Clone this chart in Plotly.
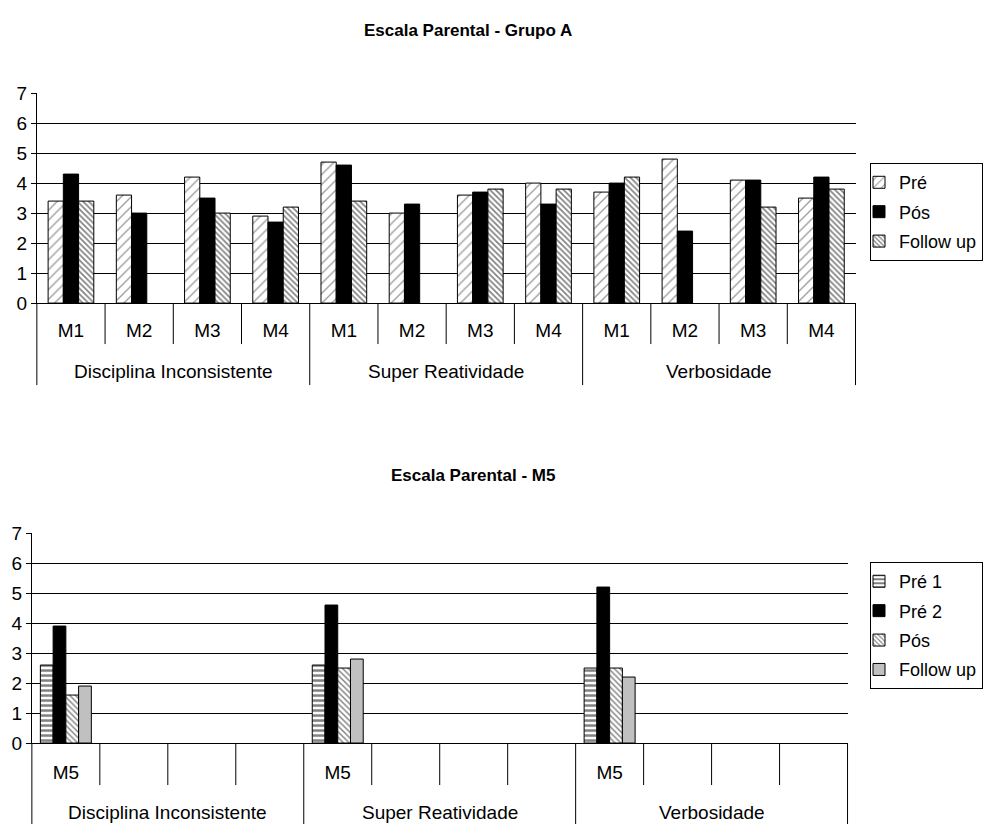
import plotly.graph_objects as go

# ---------------- data ----------------
groups = ["Disciplina Inconsistente", "Super Reatividade", "Verbosidade"]
measures_a = ["M1", "M2", "M3", "M4"]
pre_a = [3.4, 3.6, 4.2, 2.9, 4.7, 3.0, 3.6, 4.0, 3.7, 4.8, 4.1, 3.5]
pos_a = [4.3, 3.0, 3.5, 2.7, 4.6, 3.3, 3.7, 3.3, 4.0, 2.4, 4.1, 4.2]
follow_a = [3.4, None, 3.0, 3.2, 3.4, None, 3.8, 3.8, 4.2, None, 3.2, 3.8]

measures_b = ["M5", "", "", ""]
pre1_b = [2.6, None, None, None, 2.6, None, None, None, 2.5, None, None, None]
pre2_b = [3.9, None, None, None, 4.6, None, None, None, 5.2, None, None, None]
pos_b = [1.6, None, None, None, 2.5, None, None, None, 2.5, None, None, None]
follow_b = [1.9, None, None, None, 2.8, None, None, None, 2.2, None, None, None]

title_a = "Escala Parental - Grupo A"
title_b = "Escala Parental - M5"

# ---------------- layout helpers ----------------
W, H = 983, 824
FONT = "Liberation Sans, Arial, sans-serif"
YS, YO = 0.9746, 9.9   # vertical correction observed in the rendered photo

def px_x(p):
    return p / W

def px_y(p):
    q = (p - YO) / YS
    return 1 - q / H

keys_a = [f"{g}|{m}" for g in groups for m in measures_a]
keys_b = [f"{g}|{i}" for g in groups for i in range(len(measures_b))]
labels_a = [m for g in groups for m in measures_a]
labels_b = [m for g in groups for m in measures_b]

fig = go.Figure()

line = dict(color="black", width=1)

fig.add_trace(go.Bar(
    x=keys_a, y=pre_a, name="Pré", xaxis="x", yaxis="y", legend="legend",
    legendgroup="a1",
    marker=dict(color="white", line=line,
                pattern=dict(shape="/", fgcolor="#404040", bgcolor="white", size=7, solidity=0.2)),
))
fig.add_trace(go.Bar(
    x=keys_a, y=pos_a, name="Pós", xaxis="x", yaxis="y", legend="legend",
    legendgroup="a2",
    marker=dict(color="black", line=line),
))
fig.add_trace(go.Bar(
    x=keys_a, y=follow_a, name="Follow up", xaxis="x", yaxis="y", legend="legend",
    legendgroup="a3",
    marker=dict(color="white", line=line,
                pattern=dict(shape="\\", fgcolor="black", bgcolor="white", size=4, solidity=0.4)),
))

series_b = [
    ("Pré 1", pre1_b, dict(color="white", line=line,
                           pattern=dict(shape="-", fgcolor="black", bgcolor="white", size=5, solidity=0.5))),
    ("Pré 2", pre2_b, dict(color="black", line=line)),
    ("Pós", pos_b, dict(color="white", line=line,
                        pattern=dict(shape="\\", fgcolor="black", bgcolor="white", size=4, solidity=0.35))),
    ("Follow up", follow_b, dict(color="#C0C0C0", line=line)),
]
bw = 0.1875
for k, (nm, vals, mk) in enumerate(series_b):
    fig.add_trace(go.Bar(
        x=keys_b, y=vals, name=nm, xaxis="x2", yaxis="y2", legend="legend2",
        legendgroup=f"b{k}", marker=mk, width=bw, offset=-0.375 + k * bw,
    ))

axis_font = dict(family=FONT, size=19, color="black")

common_y = dict(range=[0, 7], dtick=1, showgrid=True, gridcolor="black", gridwidth=1,
                showline=True, linecolor="black", linewidth=1, ticks="outside",
                ticklen=5, tickcolor="black", zeroline=False, tickfont=axis_font,
                fixedrange=True)

legend_common = dict(x=px_x(874), xanchor="left", yanchor="top",
                     bordercolor="black", borderwidth=1, bgcolor="white",
                     font=dict(family=FONT, size=18, color="black"),
                     tracegroupgap=3, itemwidth=30, traceorder="grouped",
                     indentation=-12)

fig.update_layout(
    width=W, height=H,
    margin=dict(l=0, r=0, t=0, b=0),
    paper_bgcolor="white", plot_bgcolor="white",
    barmode="group", bargap=0.33, bargroupgap=0,
    font=dict(family=FONT, color="black"),
    xaxis=dict(domain=[px_x(37), px_x(859)], anchor="y", type="category",
               categoryorder="array", categoryarray=keys_a,
               tickvals=keys_a, ticktext=labels_a, ticks="", showline=True,
               linecolor="black", linewidth=1, showgrid=False, tickfont=axis_font,
               ticklabelstandoff=10),
    yaxis=dict(domain=[px_y(303), px_y(93)], anchor="x", **common_y),
    xaxis2=dict(domain=[px_x(32), px_x(851)], anchor="y2", type="category",
                categoryorder="array", categoryarray=keys_b,
                tickvals=keys_b, ticktext=labels_b, ticks="", showline=True,
                linecolor="black", linewidth=1, showgrid=False, tickfont=axis_font,
                ticklabelstandoff=12),
    yaxis2=dict(domain=[px_y(743), px_y(533)], anchor="x2", **common_y),
    legend=dict(y=px_y(163), **legend_common),
    legend2=dict(y=px_y(562), **legend_common),
    showlegend=True,
)

shapes = []
annotations = []

def add_axis_decor(xr, yr, plot_h, tick_len, div_len, label_off):
    for i in range(13):
        is_div = (i % 4 == 0)
        ln = div_len if is_div else tick_len
        shapes.append(dict(type="line", xref=f"{xr} domain", yref=f"{yr} domain",
                           x0=i / 12, x1=i / 12, y0=0, y1=-ln / plot_h,
                           line=dict(color="black", width=1)))
    for k, g in enumerate(groups):
        annotations.append(dict(text=g, xref=f"{xr} domain", yref=f"{yr} domain",
                                x=(4 * k + 2) / 12, y=-label_off / plot_h,
                                xanchor="center", yanchor="middle", showarrow=False,
                                font=dict(family=FONT, size=19, color="black")))

add_axis_decor("x", "y", 210, 41, 82, 68)
add_axis_decor("x2", "y2", 210, 42, 90, 69)

annotations.append(dict(text=f"<b>{title_a}</b>", xref="paper", yref="paper",
                        x=px_x(470), y=px_y(30), xanchor="center", yanchor="middle",
                        showarrow=False, font=dict(family=FONT, size=17, color="black")))
annotations.append(dict(text=f"<b>{title_b}</b>", xref="paper", yref="paper",
                        x=px_x(475), y=px_y(475), xanchor="center", yanchor="middle",
                        showarrow=False, font=dict(family=FONT, size=17, color="black")))

fig.update_layout(shapes=shapes, annotations=annotations)

fig.write_html("out.html", config={"displayModeBar": False},
               post_script="document.body.style.margin='0';document.body.style.overflow='hidden';")
